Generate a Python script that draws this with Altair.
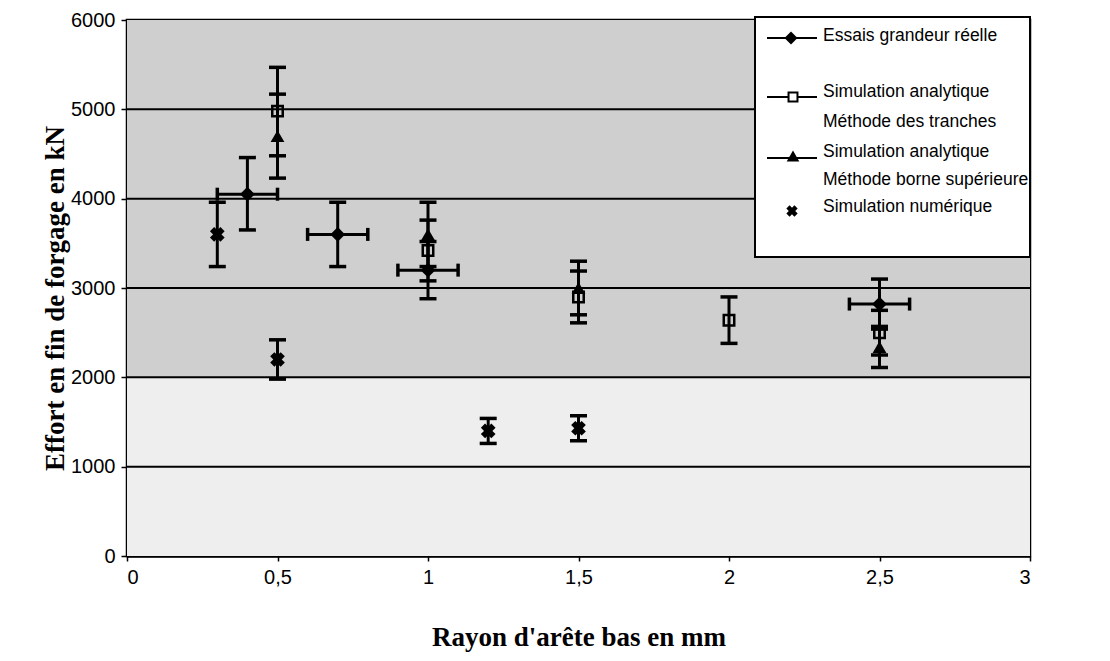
import altair as alt
import pandas as pd

# ---------------- data ----------------
x_ticks = [0, 0.5, 1, 1.5, 2, 2.5, 3]
y_ticks = [0, 1000, 2000, 3000, 4000, 5000, 6000]
grid_y = [1000, 2000, 3000, 4000, 5000]

# Essais grandeur réelle (diamond, x and y error bars)
essais_x = [0.4, 0.7, 1.0, 2.5]
essais_y = [4050, 3600, 3200, 2820]
essais_ylo = [3650, 3240, 2880, 2540]
essais_yhi = [4460, 3960, 3520, 3100]
essais_xlo = [0.3, 0.6, 0.9, 2.4]
essais_xhi = [0.5, 0.8, 1.1, 2.6]

# Simulation analytique - Méthode des tranches (hollow square)
tranches_x = [0.5, 1.0, 1.5, 2.0, 2.5]
tranches_y = [4980, 3420, 2900, 2640, 2500]
tranches_ylo = [4480, 3080, 2610, 2380, 2250]
tranches_yhi = [5470, 3760, 3190, 2900, 2750]

# Simulation analytique - Méthode borne supérieure (triangle)
borne_x = [0.5, 1.0, 1.5, 2.5]
borne_y = [4700, 3600, 3000, 2340]
borne_ylo = [4230, 3240, 2700, 2110]
borne_yhi = [5170, 3960, 3300, 2570]

# Simulation numérique (cross)
num_x = [0.3, 0.5, 1.2, 1.5]
num_y = [3600, 2200, 1400, 1430]
num_ylo = [3240, 1980, 1260, 1290]
num_yhi = [3960, 2420, 1540, 1570]

legend_labels = [
    "Essais grandeur réelle",
    "Simulation analytique",
    "Méthode des tranches",
    "Simulation analytique",
    "Méthode borne supérieure",
    "Simulation numérique",
]

# ---------------- tables ----------------
essais = pd.DataFrame(dict(x=essais_x, y=essais_y, ylo=essais_ylo, yhi=essais_yhi,
                           xlo=essais_xlo, xhi=essais_xhi))
tranches = pd.DataFrame(dict(x=tranches_x, y=tranches_y, ylo=tranches_ylo, yhi=tranches_yhi))
borne = pd.DataFrame(dict(x=borne_x, y=borne_y, ylo=borne_ylo, yhi=borne_yhi))
num = pd.DataFrame(dict(x=num_x, y=num_y, ylo=num_ylo, yhi=num_yhi))
grid = pd.DataFrame(dict(y=grid_y))
bands = pd.DataFrame(dict(y0=[2000, 0], y1=[6000, 2000], shade=["dense", "light"]))

W, H = 903, 536

xs = alt.Scale(domain=[0, 3], nice=False, zero=False)
ys = alt.Scale(domain=[0, 6000], nice=False, zero=False)

xaxis = alt.Axis(
    values=x_ticks, format="~g", labelExpr="replace(datum.label, '.', ',')",
    title="Rayon d'arête bas en mm", titleFont="Liberation Serif", titleFontWeight="bold",
    titleFontSize=27, titleColor="black", titleX=W / 2, titleY=81, titleBaseline="middle",
    titleAlign="center",
    labelFont="Liberation Sans", labelFontSize=20, labelColor="black", labelPadding=6,
    tickSize=5, tickColor="black", tickWidth=1.5, domainColor="black", domainWidth=2.5,
    grid=False,
)
yaxis = alt.Axis(
    values=y_ticks, format="d",
    title="Effort en fin de forgage en kN", titleFont="Liberation Serif", titleFontWeight="bold",
    titleFontSize=27, titleColor="black", titleX=-72, titleY=H / 2 + 10, titleAngle=-90,
    titleBaseline="middle", titleAlign="center",
    labelFont="Liberation Sans", labelFontSize=20, labelColor="black", labelPadding=6,
    tickSize=6, tickColor="black", tickWidth=1.5, domainColor="black", domainWidth=2.5,
    grid=False,
)


def X(f):
    return alt.X(f"{f}:Q", scale=xs, axis=xaxis)


def Y(f):
    return alt.Y(f"{f}:Q", scale=ys, axis=yaxis)


# background stipple approximation
bg = alt.Chart(bands).mark_rect().encode(
    x=alt.value(0), x2=alt.value(W),
    y=Y("y1"), y2="y0:Q",
    color=alt.Color("shade:N", scale=alt.Scale(domain=["dense", "light"],
                                                range=["#cfcfcf", "#eeeeee"]), legend=None),
)

gridlines = alt.Chart(grid).mark_rule(color="black", strokeWidth=2).encode(
    y=Y("y"), x=alt.value(0), x2=alt.value(W)
)


def yerr(df):
    rule = alt.Chart(df).mark_rule(color="black", strokeWidth=3).encode(x=X("x"), y=Y("ylo"), y2="yhi:Q")
    cap_lo = alt.Chart(df).mark_tick(color="black", orient="horizontal", size=17, thickness=3.5, opacity=1).encode(x=X("x"), y=Y("ylo"))
    cap_hi = alt.Chart(df).mark_tick(color="black", orient="horizontal", size=17, thickness=3.5, opacity=1).encode(x=X("x"), y=Y("yhi"))
    return [rule, cap_lo, cap_hi]


def xerr(df):
    rule = alt.Chart(df).mark_rule(color="black", strokeWidth=3).encode(x=X("xlo"), x2="xhi:Q", y=Y("y"))
    cap_lo = alt.Chart(df).mark_tick(color="black", orient="vertical", size=13, thickness=3.5, opacity=1).encode(x=X("xlo"), y=Y("y"))
    cap_hi = alt.Chart(df).mark_tick(color="black", orient="vertical", size=13, thickness=3.5, opacity=1).encode(x=X("xhi"), y=Y("y"))
    return [rule, cap_lo, cap_hi]


pts_essais = alt.Chart(essais).mark_point(shape="diamond", filled=True, color="black", size=220, opacity=1).encode(x=X("x"), y=Y("y"))
pts_tranches = alt.Chart(tranches).mark_point(shape="square", filled=False, color="black", strokeWidth=2.5, size=110, opacity=1).encode(x=X("x"), y=Y("y"))
pts_borne = alt.Chart(borne).mark_point(shape="triangle-up", filled=True, color="black", size=190, opacity=1).encode(x=X("x"), y=Y("y"))
pts_num = alt.Chart(num).mark_point(shape="cross", filled=True, color="black", size=220, angle=45, opacity=1).encode(x=X("x"), y=Y("y"))

# ---------------- legend (drawn as a box in the top-right corner) ----------------
LX0, LX1, LY0, LY1 = 628, W, -3, 237
legend_box = alt.Chart(pd.DataFrame({"k": [0]})).mark_rect(fill="white", stroke="black", strokeWidth=2).encode(
    x=alt.value(LX0), x2=alt.value(LX1), y=alt.value(LY0), y2=alt.value(LY1)
)
text_y = [16, 72, 102, 132, 160, 187]
legend_text = pd.DataFrame(dict(label=legend_labels, ty=text_y))
legend_txt = alt.Chart(legend_text).mark_text(
    align="left", baseline="middle", font="Liberation Sans", fontSize=17.5, color="black"
).encode(x=alt.value(696), y=alt.Y("ty:Q", scale=None), text="label:N")

sym_line_y = [18, 77, 138]
sym_lines = alt.Chart(pd.DataFrame(dict(ly=sym_line_y))).mark_rule(color="black", strokeWidth=2).encode(
    x=alt.value(640), x2=alt.value(690), y=alt.Y("ly:Q", scale=None)
)
leg_d = alt.Chart(pd.DataFrame({"k": [0]})).mark_point(shape="diamond", filled=True, color="black", size=170, opacity=1).encode(
    x=alt.value(664), y=alt.value(18))
leg_s = alt.Chart(pd.DataFrame({"k": [0]})).mark_point(shape="square", filled=True, fill="white", stroke="black", strokeWidth=2, size=80, opacity=1).encode(
    x=alt.value(666), y=alt.value(77))
leg_t = alt.Chart(pd.DataFrame({"k": [0]})).mark_point(shape="triangle-up", filled=True, color="black", size=160, opacity=1).encode(
    x=alt.value(666), y=alt.value(136))
leg_x = alt.Chart(pd.DataFrame({"k": [0]})).mark_point(shape="cross", filled=True, color="black", size=130, angle=45, opacity=1).encode(
    x=alt.value(665), y=alt.value(191))

layers = [bg, gridlines]
layers += yerr(tranches) + yerr(borne) + yerr(num) + yerr(essais) + xerr(essais)
layers += [pts_tranches, pts_borne, pts_num, pts_essais]
layers += [legend_box, sym_lines, leg_d, leg_s, leg_t, leg_x, legend_txt]

chart = alt.layer(*layers).properties(
    width=W, height=H,
    autosize=alt.AutoSizeParams(type="none"),
    padding={"left": 119, "top": 12, "right": 72, "bottom": 97},
    background="white",
).configure_view(stroke="black", strokeWidth=2.5, fill="white")

chart.save("out.html", embed_options={"renderer": "svg", "actions": False})
